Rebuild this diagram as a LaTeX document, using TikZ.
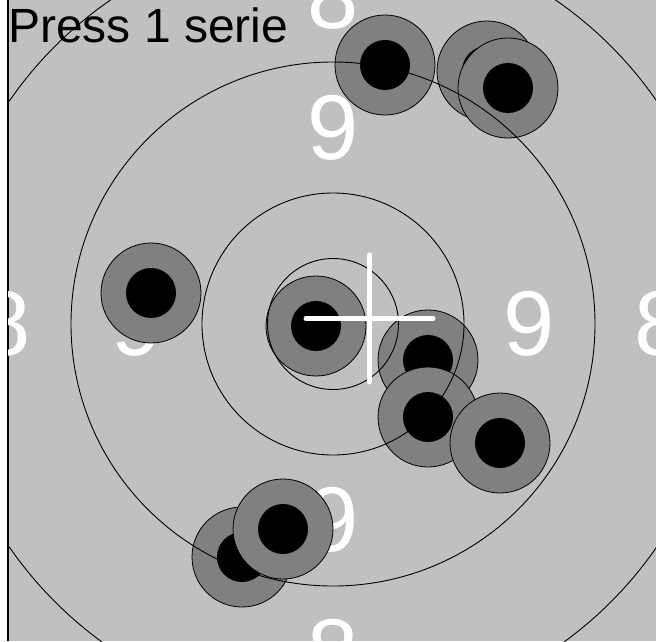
\documentclass[tikz,border=0pt]{standalone}
\usepackage{fontspec}
\setmainfont{Liberation Sans}
\usetikzlibrary{positioning}
\definecolor{Board}{HTML}{C0C0C0}
\definecolor{Hole}{HTML}{808080}

\tikzset{
  shot/.style={circle,fill=Hole,draw=black,line width=0.8pt,minimum size=100pt,inner sep=0pt},
  core/.style={circle,fill=black,minimum size=50pt,inner sep=0pt},
  ringnum/.style={text=white,inner sep=0pt,font=\fontsize{92}{92}\selectfont}
}

\begin{document}
\begin{tikzpicture}[x=1pt,y=-1pt]
  \useasboundingbox (0,0) rectangle (656,641);
  \fill[Board] (8,0) rectangle (656,641);
  \draw[line width=2pt] (7.5,0) -- (7.5,641);
  \coordinate (mid) at (333,324);
  \begin{scope}
    \clip (8.5,0) rectangle (656,641);
    % ring numbers
    \foreach \a in {0,90,180,270} {
      \node[ringnum] at ([shift={(\a:196)}]mid) {9};
      \node[ringnum] at ([shift={(\a:327.5)}]mid) {8};
    }
    % shots, in firing order
    \foreach \i/\x/\y in {1/385/65,2/487/71,3/508/88,4/151/293,5/316/326,
                          6/428/360,7/428/417,8/500/443,9/242/557,10/283/529} {
      \node[shot] (s\i) at (\x,\y) {};
      \node[core] (c\i) at (s\i) {};
    }
    % rings
    \foreach \r in {65.5,131,262,393}
      \draw[line width=0.9pt] (mid) circle[radius=\r];
  \end{scope}
  % aim mark
  \coordinate (cross) at (369.5,318.5);
  \draw[white,line width=5pt,line cap=round]
    ([yshift=63.5pt]cross) -- ([yshift=-63.5pt]cross)
    ([xshift=-63.5pt]cross) -- ([xshift=63.5pt]cross);
  \node[anchor=base west,inner sep=0pt,font=\fontsize{48}{48}\selectfont] (title) at (8,42) {Press 1 serie};
\end{tikzpicture}
\end{document}
